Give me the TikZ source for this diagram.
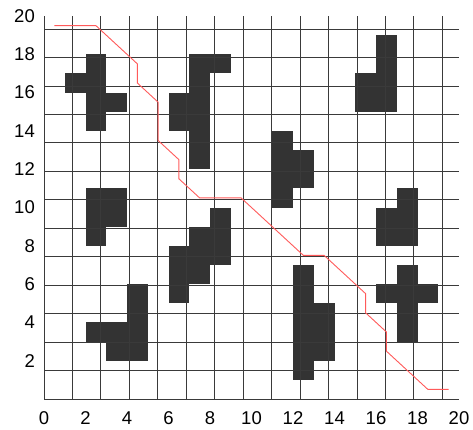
\documentclass[tikz,border=0pt]{standalone}
\usepackage{fontspec}
\setmainfont{Liberation Sans}
\definecolor{cellgray}{HTML}{333333}
\definecolor{gridgray}{HTML}{3A3A3A}
\definecolor{pathred}{HTML}{FF5A5A}
\begin{document}
\begin{tikzpicture}[x=20.75pt,y=19.15pt,
  cellfill/.style={fill=cellgray, draw=none},
  gridline/.style={draw=gridgray, line width=0.9pt},
  pathline/.style={draw=pathred, line width=0.9pt},
  ticklabel/.style={font=\fontsize{18.5}{18.5}\selectfont, inner sep=0pt}]
\useasboundingbox (-44pt,-30pt) rectangle (429pt,399pt);
% obstacle cells (column/row of lower-left corner)
\foreach \c/\r in {2/17,1/16,2/16,2/15,3/15,2/14,
  7/17,8/17,7/16,6/15,7/15,6/14,7/14,7/13,7/12,
  2/10,3/10,2/9,3/9,2/8,
  8/9,8/8,8/7,7/8,7/7,7/6,6/7,6/6,6/5,
  4/5,4/4,4/3,4/2,3/3,3/2,2/3,
  16/18,16/17,16/16,16/15,15/16,15/15,
  11/13,11/12,11/11,11/10,12/12,12/11,
  16/9,16/8,17/10,17/9,17/8,
  12/6,12/5,12/4,12/3,12/2,12/1,13/4,13/3,13/2,
  17/6,17/5,17/4,17/3,16/5,18/5}
  \fill[cellfill] (\c,\r) rectangle ++(1,1);
\draw[gridline] (0,0) grid (20,20);
% path
\coordinate (s) at (0.5,19.5);
\coordinate (g) at (19.5,0.5);
\draw[pathline] (s) -- (2.5,19.5) -- (4.5,17.5) -- (4.5,16.5) -- (5.5,15.5)
  -- (5.5,13.5) -- (6.5,12.5) -- (6.5,11.5) -- (7.5,10.5) -- (9.5,10.5)
  -- (12.5,7.5) -- (13.5,7.5) -- (15.5,5.5) -- (15.5,4.5) -- (16.5,3.5)
  -- (16.5,2.5) -- (18.5,0.5) -- (g);
% tick labels
\foreach \v in {0,2,...,20}
  \node[ticklabel] (xl\v) at ([yshift=-19.5pt]\v,0) {\v};
\foreach \v in {2,4,...,20}
  \node[ticklabel, anchor=east] (yl\v) at ([xshift=-9pt]0,\v) {\v};
\end{tikzpicture}
\end{document}
